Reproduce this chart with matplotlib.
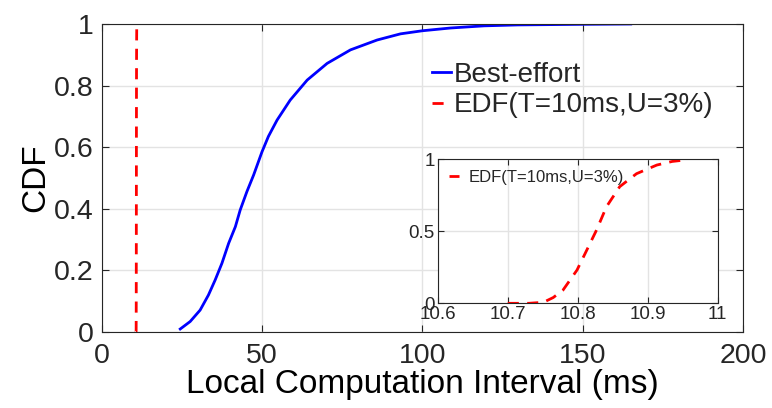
import numpy as np
import matplotlib
matplotlib.use('Agg')
from matplotlib import pyplot as plt

plt.rcParams['font.family'] = ['Liberation Sans', 'DejaVu Sans']
plt.rcParams['text.color'] = '#262626'
plt.rcParams['axes.edgecolor'] = '#262626'
plt.rcParams['xtick.color'] = '#262626'
plt.rcParams['ytick.color'] = '#262626'

# Best-effort CDF
be_x = [24.5, 27.6, 30.7, 33.3, 35.4, 37.5, 39.6, 41.7, 43.2, 45.3, 47.4, 50, 52, 54.7,
        58.8, 64.1, 70.3, 77.6, 85.9, 93.2, 100, 108.8, 119.3, 129.7, 150.4, 165]
be_y = [0.0097, 0.034, 0.071, 0.120, 0.169, 0.223, 0.288, 0.342, 0.396, 0.456, 0.51, 0.585,
        0.635, 0.688, 0.753, 0.818, 0.872, 0.916, 0.948, 0.968, 0.978, 0.987, 0.994, 0.997,
        0.999, 1.0]

# EDF(T=10ms,U=3%) CDF
edf_x = [10.70, 10.73, 10.751, 10.765, 10.779, 10.799, 10.813, 10.827, 10.841, 10.86,
         10.884, 10.913, 10.935, 10.953]
edf_y = [0.0, 0.0, 0.007, 0.04, 0.092, 0.231, 0.37, 0.51, 0.67, 0.81,
         0.90, 0.96, 0.985, 0.995]

fig = plt.figure(figsize=(7.72, 4.08), dpi=100)
ax = fig.add_axes([0.1317, 0.1863, 0.8307, 0.7549])

ax.plot(be_x, be_y, color='#0000ff', lw=2, label='Best-effort')
ax.plot(edf_x, edf_y, color='#ff0000', lw=2, ls=(0, (4, 3)), label='EDF(T=10ms,U=3%)')

ax.set_xlim(0, 200)
ax.set_ylim(0, 1)
ax.set_xticks([0, 50, 100, 150, 200])
ax.set_yticks([0, 0.2, 0.4, 0.6, 0.8, 1])
ax.set_yticklabels(['0', '0.2', '0.4', '0.6', '0.8', '1'])
ax.grid(True, color='#e3e3e3', lw=1)
ax.set_axisbelow(True)
ax.tick_params(direction='in', labelsize=20.5, top=True, right=True, length=5)
ax.tick_params(axis='x', pad=8)
ax.tick_params(axis='y', pad=6)
ax.set_xlabel('Local Computation Interval (ms)', fontsize=24, labelpad=0)
ax.set_ylabel('CDF', fontsize=24, labelpad=2)

ax.legend(loc='center left', bbox_to_anchor=(0.515, 0.785), frameon=False, fontsize=20,
          handlelength=0.7, handletextpad=0.1, labelspacing=0.15, borderpad=0,
          borderaxespad=0)

# inset
ins = fig.add_axes([0.567, 0.2566, 0.3627, 0.353])
ins.plot(edf_x, edf_y, color='#ff0000', lw=2, ls=(0, (4, 3)), label='EDF(T=10ms,U=3%)')
ins.set_xlim(10.6, 11)
ins.set_ylim(0, 1)
ins.set_xticks([10.6, 10.7, 10.8, 10.9, 11])
ins.set_xticklabels(['10.6', '10.7', '10.8', '10.9', '11'])
ins.set_yticks([0, 0.5, 1])
ins.set_yticklabels(['0', '0.5', '1'])
ins.grid(True, color='#e3e3e3', lw=1)
ins.set_axisbelow(True)
ins.tick_params(direction='in', labelsize=13.5, top=True, right=True, length=4, pad=2)
ins.legend(loc='upper left', frameon=False, fontsize=12, handlelength=0.6,
           handletextpad=0.6, borderaxespad=0.35, borderpad=0.3)

fig.savefig('out.png', dpi=100)
